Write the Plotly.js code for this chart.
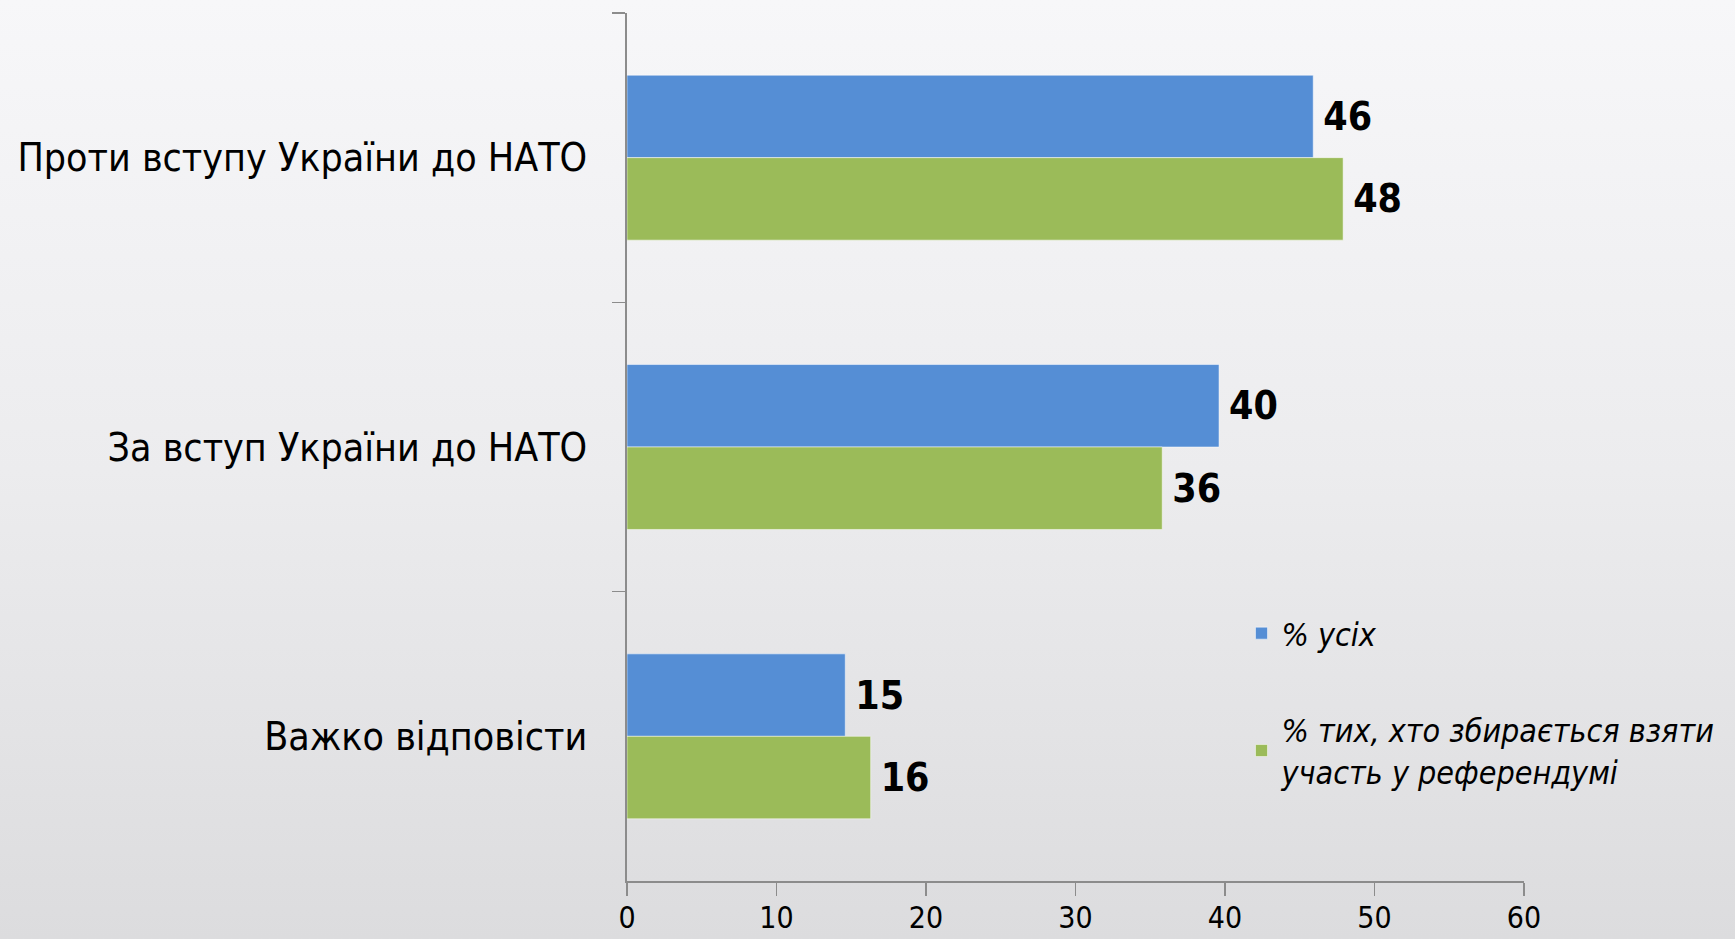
<!DOCTYPE html>
<html>
<head>
<meta charset="utf-8">
<script src="https://cdn.plot.ly/plotly-3.0.1.min.js"></script>
<style>
  html, body { margin: 0; padding: 0; width: 1735px; height: 939px; overflow: hidden;
    background: linear-gradient(to bottom, #f7f7f9 0%, #ececee 50%, #dcdcde 100%); }
  #chart { width: 1735px; height: 939px; }
</style>
</head>
<body>
<div id="chart"></div>
<script>
const categories = ["Проти вступу України до НАТО", "За вступ України до НАТО", "Важко відповісти"];
const seriesNames = ["% усіх", "% тих, хто збирається взяти<br>участь у референдумі"];
const valuesAll = [45.9, 39.6, 14.6];
const labelsAll = ["46", "40", "15"];
const valuesVoters = [47.9, 35.8, 16.3];
const labelsVoters = ["48", "36", "16"];
const xTicks = [0, 10, 20, 30, 40, 50, 60];

const narrow = "'Liberation Sans Narrow', 'Arial Narrow', 'DejaVu Sans Condensed', 'Roboto Condensed', sans-serif";

const common = {
  type: 'bar', orientation: 'h', y: categories,
  textposition: 'outside', cliponaxis: false,
  texttemplate: '\u2009%{text}',
  textfont: { family: narrow, size: 39, color: '#000', weight: 'bold' },
  hoverinfo: 'none'
};

const data = [
  Object.assign({}, common, {
    name: seriesNames[0], x: valuesAll, text: labelsAll, legendgroup: 'a',
    marker: { color: '#558ed5', line: { color: 'rgba(255,255,255,0.5)', width: 1 } }
  }),
  Object.assign({}, common, {
    name: seriesNames[1], x: valuesVoters, text: labelsVoters, legendgroup: 'b',
    marker: { color: '#9bbb59', line: { color: 'rgba(255,255,255,0.5)', width: 1 } }
  })
];

const layout = {
  width: 1735, height: 939,
  paper_bgcolor: 'rgba(0,0,0,0)', plot_bgcolor: 'rgba(0,0,0,0)',
  margin: { l: 627, r: 0, t: 13, b: 58 },
  barmode: 'group', bargap: 0.43, bargroupgap: 0,
  font: { family: narrow, color: '#000' },
  xaxis: {
    domain: [0, 0.8096],
    range: [0, 60], tickvals: xTicks, ticktext: xTicks.map(String),
    showgrid: false, zeroline: false, showline: true, linecolor: '#8c8c8c', linewidth: 2,
    ticks: 'outside', ticklen: 13, tickcolor: '#8c8c8c', tickwidth: 1.5,
    tickfont: { family: narrow, size: 30, color: '#000' }, ticklabelstandoff: -4
  },
  yaxis: {
    type: 'category', autorange: 'reversed', tickson: 'boundaries',
    showgrid: false, zeroline: false, showline: true, linecolor: '#8c8c8c', linewidth: 2,
    ticks: 'outside', ticklen: 13, tickcolor: '#8c8c8c', tickwidth: 1.5,
    tickfont: { family: narrow, size: 39, color: '#000' }, ticklabelstandoff: 30
  },
  legend: {
    x: 0.5546, y: 0.317, xanchor: 'left', yanchor: 'top',
    bgcolor: 'rgba(0,0,0,0)', borderwidth: 0, traceorder: 'grouped', tracegroupgap: 52,
    font: { family: narrow, size: 32, color: '#000', style: 'italic' }
  },
  showlegend: true
};

Plotly.newPlot('chart', data, layout, { displayModeBar: false, staticPlot: true });
</script>
</body>
</html>
